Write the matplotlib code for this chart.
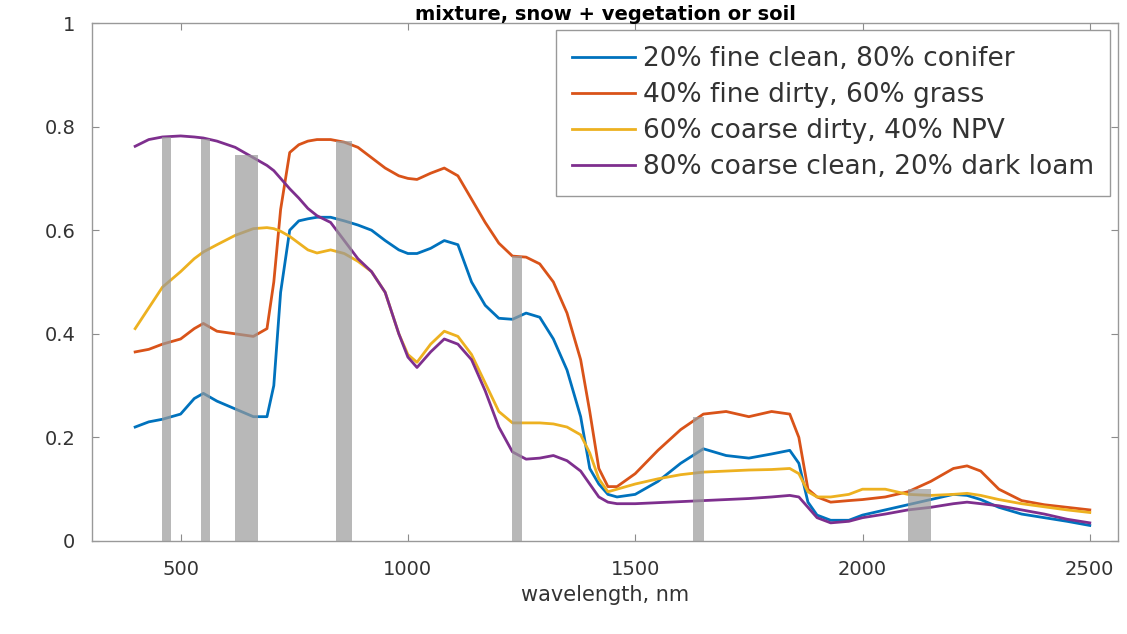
import numpy as np
import matplotlib.pyplot as plt

# wavelength grid, nm
wl = [400, 430, 460, 500, 530, 550, 580, 620, 660, 690, 705, 720, 740, 760, 780,
      800, 830, 860, 890, 920, 950, 980, 1000, 1020, 1050, 1080, 1110, 1140, 1170,
      1200, 1230, 1260, 1290, 1320, 1350, 1380, 1400, 1420, 1440, 1460, 1500, 1550,
      1600, 1650, 1700, 1750, 1800, 1840, 1860, 1880, 1900, 1930, 1970, 2000, 2050,
      2100, 2150, 2200, 2230, 2260, 2300, 2350, 2400, 2450, 2500]

# 20% fine clean, 80% conifer
conifer = [.22, .23, .235, .245, .275, .285, .27, .255, .24, .24, .30, .48, .60, .618, .622,
           .625, .625, .618, .61, .60, .58, .562, .555, .555, .565, .58, .572, .50, .455,
           .43, .428, .44, .432, .39, .33, .24, .14, .11, .09, .085, .09, .115,
           .15, .178, .165, .16, .168, .175, .15, .075, .05, .04, .04, .05, .06,
           .07, .08, .09, .088, .08, .065, .052, .045, .038, .03]

# 40% fine dirty, 60% grass
grass = [.365, .37, .38, .39, .41, .42, .405, .40, .395, .41, .50, .64, .75, .765, .772,
         .775, .775, .77, .76, .74, .72, .705, .70, .698, .71, .72, .705, .66, .615,
         .575, .55, .548, .535, .50, .44, .35, .25, .14, .105, .105, .13, .175,
         .215, .245, .25, .24, .25, .245, .20, .10, .085, .075, .078, .08, .085,
         .095, .115, .14, .145, .135, .10, .078, .07, .065, .06]

# 60% coarse dirty, 40% NPV
npv = [.41, .45, .49, .52, .545, .558, .572, .59, .603, .605, .603, .598, .588, .575, .562,
       .556, .562, .555, .54, .52, .48, .40, .36, .345, .38, .405, .395, .36, .305,
       .25, .228, .228, .228, .226, .22, .205, .17, .12, .095, .10, .11, .12,
       .128, .133, .135, .137, .138, .14, .13, .095, .085, .085, .09, .10, .10,
       .09, .088, .09, .092, .088, .08, .072, .066, .06, .055]

# 80% coarse clean, 20% dark loam
loam = [.762, .775, .78, .782, .78, .778, .772, .76, .74, .725, .715, .70, .68, .662, .642,
        .628, .615, .58, .545, .52, .48, .40, .355, .335, .365, .39, .38, .35, .29,
        .22, .172, .158, .16, .165, .155, .135, .11, .085, .075, .072, .072, .074,
        .076, .078, .08, .082, .085, .088, .085, .065, .045, .035, .038, .045, .052,
        .06, .065, .072, .075, .072, .068, .06, .052, .042, .035]

labels = ['20% fine clean, 80% conifer', '40% fine dirty, 60% grass',
          '60% coarse dirty, 40% NPV', '80% coarse clean, 20% dark loam']
colors = ['#0072BD', '#D95319', '#EDB120', '#7E2F8E']

# MODIS bands (nm) and height of grey bars
band_lo = [459, 545, 620, 841, 1230, 1628, 2100]
band_hi = [479, 565, 670, 876, 1250, 1652, 2150]
band_top = [0.78, 0.777, 0.745, 0.772, 0.55, 0.24, 0.10]

fig = plt.figure(figsize=(11.27, 6.34), dpi=100)
ax = fig.add_axes([0.0816, 0.1467, 0.9104, 0.817])

for y, lab, c in zip([conifer, grass, npv, loam], labels, colors):
    ax.plot(wl, y, color=c, lw=2.0, label=lab)

for lo, hi, top in zip(band_lo, band_hi, band_top):
    ax.bar(lo, top, width=hi - lo, align='edge', color='#9a9a9a', alpha=0.7,
           edgecolor='none', zorder=3)

ax.set_xlim(305, 2562)
ax.set_ylim(0, 1)
ax.set_xticks([500, 1000, 1500, 2000, 2500])
ax.set_yticks([0, 0.2, 0.4, 0.6, 0.8, 1])
ax.set_yticklabels(['0', '0.2', '0.4', '0.6', '0.8', '1'])
ax.tick_params(direction='in', top=True, right=True, length=5, width=0.8,
               color='0.55', labelcolor='0.2', labelsize=14)
ax.tick_params(axis='x', pad=14)
ax.tick_params(axis='y', pad=12)
for s in ax.spines.values():
    s.set_color('0.6')
    s.set_linewidth(1.0)

ax.set_xlabel('wavelength, nm', fontsize=15, color='0.2', labelpad=4)
ax.set_title('mixture, snow + vegetation or soil', fontsize=14,
             fontweight='bold', pad=2)

leg = ax.legend(loc='upper right', bbox_to_anchor=(0.992, 0.9865), borderaxespad=0,
                fontsize=19, handlelength=2.4, handletextpad=0.3, labelspacing=0.38,
                borderpad=0.6, fancybox=False, framealpha=1, edgecolor='0.6')
leg.get_frame().set_linewidth(1.0)
for t in leg.get_texts():
    t.set_color('0.2')

fig.savefig('out.png', dpi=100, facecolor='white')
